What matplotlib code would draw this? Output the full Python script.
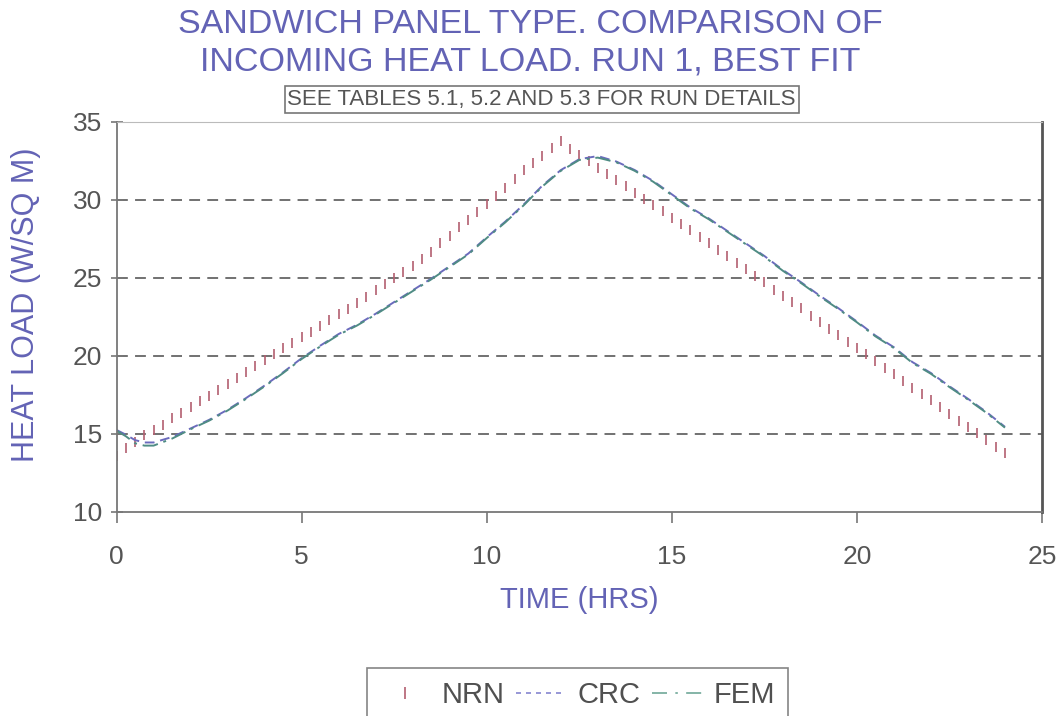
import numpy as np
import matplotlib
matplotlib.use("Agg")
import matplotlib.pyplot as plt
from matplotlib.lines import Line2D

# NRN, sampled every quarter hour
nrn_t = np.arange(0, 24.01, 0.25)
nrn_q = [13.6, 14.1, 14.5, 14.9, 15.25, 15.6, 16.0, 16.35, 16.75, 17.1, 17.45, 17.8,
         18.2, 18.55, 18.95, 19.35, 19.75, 20.1, 20.5, 20.85, 21.2, 21.55, 21.9, 22.3,
         22.65, 23.0, 23.4, 23.8, 24.2, 24.6, 25.0, 25.35, 25.75, 26.2, 26.65, 27.2,
         27.7, 28.25, 28.7, 29.2, 29.7, 30.25, 30.75, 31.3, 31.9, 32.35, 32.8, 33.3,
         33.75, 33.25, 32.85, 32.5, 32.05, 31.65, 31.25, 30.9, 30.45, 30.05, 29.65, 29.25,
         28.85, 28.45, 28.05, 27.6, 27.2, 26.8, 26.4, 25.95, 25.55, 25.1, 24.7, 24.25,
         23.85, 23.45, 23.05, 22.55, 22.15, 21.75, 21.35, 20.9, 20.5, 20.1, 19.7, 19.25,
         18.85, 18.4, 17.95, 17.55, 17.15, 16.75, 16.3, 15.85, 15.45, 15.05, 14.6, 14.15,
         13.75]

# CRC and FEM curves
fit_t = [0, 0.25, 0.5, 0.75, 1.0, 1.5, 2.0, 2.5, 3.0, 3.5, 4.0, 4.5, 5.0, 5.5, 6.0,
         6.5, 7.0, 7.5, 8.0, 8.5, 9.0, 9.5, 10.0, 10.5, 11.0, 11.5, 12.0, 12.5, 13.0,
         13.5, 14.0, 14.5, 15.0, 15.5, 16.0, 16.5, 17.0, 17.5, 18.0, 18.5, 19.0, 19.5,
         20.0, 20.5, 21.0, 21.5, 22.0, 22.5, 23.0, 23.5, 24.0]
crc_q = [15.25, 14.95, 14.6, 14.45, 14.45, 14.8, 15.35, 15.9, 16.55, 17.3, 18.1, 18.95,
         19.85, 20.65, 21.4, 22.0, 22.7, 23.45, 24.2, 24.95, 25.75, 26.55, 27.6, 28.6,
         29.7, 30.9, 31.9, 32.6, 32.8, 32.45, 31.9, 31.2, 30.35, 29.5, 28.8, 28.0, 27.2,
         26.4, 25.5, 24.7, 23.85, 23.05, 22.2, 21.3, 20.55, 19.6, 18.9, 18.05, 17.25,
         16.4, 15.45]
fem_q = [15.2, 14.85, 14.4, 14.25, 14.25, 14.7, 15.3, 15.85, 16.5, 17.25, 18.05, 18.9,
         19.8, 20.6, 21.35, 21.95, 22.65, 23.4, 24.15, 24.9, 25.7, 26.5, 27.55, 28.55,
         29.65, 30.85, 31.85, 32.55, 32.7, 32.4, 31.85, 31.15, 30.3, 29.45, 28.75, 27.95,
         27.15, 26.35, 25.45, 24.65, 23.8, 23.0, 22.15, 21.25, 20.5, 19.55, 18.85, 18.0,
         17.2, 16.35, 15.4]

title_col = '#6363b5'
text_col = '#555555'
nrn_col = '#b35f70'
crc_col = '#6b6bbd'
fem_col = '#4f8c84'

plt.rcParams['font.family'] = ['Liberation Sans', 'DejaVu Sans']

fig = plt.figure(figsize=(10.6, 7.16), dpi=100)
ax = fig.add_axes([0.110, 0.285, 0.873, 0.545])

ax.plot(nrn_t, nrn_q, linestyle='none', marker='|', markersize=7, mew=1.2,
        color=nrn_col)
ax.plot(fit_t, crc_q, linestyle=(0, (5, 3)), lw=1.4, color=crc_col)
ax.plot(fit_t, fem_q, linestyle=(0, (8, 3, 1.5, 3)), lw=1.4, color=fem_col)

ax.set_xlim(0, 25)
ax.set_ylim(10, 35)
ax.set_xticks(range(0, 26, 5))
ax.set_yticks(range(10, 36, 5))
for y in [15, 20, 25, 30]:
    ax.axhline(y, color='#666666', lw=1.3, linestyle=(0, (6, 4)), zorder=0)

ax.tick_params(axis='y', direction='inout', length=9, width=1.2, colors='#777777',
               labelcolor=text_col, labelsize=19, pad=6)
ax.tick_params(axis='x', direction='out', length=8, width=1.2, colors='#777777',
               labelcolor=text_col, labelsize=19, pad=16)

ax.spines['left'].set_color('#777777')
ax.spines['bottom'].set_color('#777777')
ax.spines['top'].set_color('#bbbbbb')
ax.spines['right'].set_color('#555555')
ax.spines['right'].set_linewidth(2)
ax.spines['left'].set_linewidth(1.3)
ax.spines['bottom'].set_linewidth(1.3)

ax.set_xlabel('TIME (HRS)', color=title_col, fontsize=21, labelpad=12)
ax.set_ylabel('HEAT LOAD (W/SQ M)', color=title_col, fontsize=22)
ax.yaxis.set_label_coords(-0.082, 0.53)

fig.text(0.5, 0.966, 'SANDWICH PANEL TYPE. COMPARISON OF', ha='center', va='center',
         color=title_col, fontsize=24.5)
fig.text(0.5, 0.914, 'INCOMING HEAT LOAD. RUN 1, BEST FIT', ha='center', va='center',
         color=title_col, fontsize=24.5)
fig.text(0.511, 0.861, 'SEE TABLES 5.1, 5.2 AND 5.3 FOR RUN DETAILS', ha='center',
         va='center', color=text_col, fontsize=16,
         bbox=dict(boxstyle='square,pad=0.12', fc='white', ec='#777777', lw=1.2))

handles = [Line2D([], [], linestyle='none', marker='|', markersize=8, mew=1.2, color=nrn_col),
           Line2D([], [], linestyle=(0, (3, 3)), lw=1.2, color='#8585d0'),
           Line2D([], [], linestyle=(0, (9, 5, 1.5, 5)), lw=1.2, color='#70a898')]
leg = fig.legend(handles, ['NRN', 'CRC', 'FEM'], loc='upper center',
                 bbox_to_anchor=(0.545, 0.067), borderaxespad=0, ncol=3, frameon=True,
                 fancybox=False, edgecolor='#666666', handlelength=1.7,
                 handletextpad=0.4, columnspacing=0.4, borderpad=0.45,
                 prop={'size': 21})
leg.get_frame().set_linewidth(1.2)
for t in leg.get_texts():
    t.set_color('#505050')

fig.savefig('out.png', dpi=100)
